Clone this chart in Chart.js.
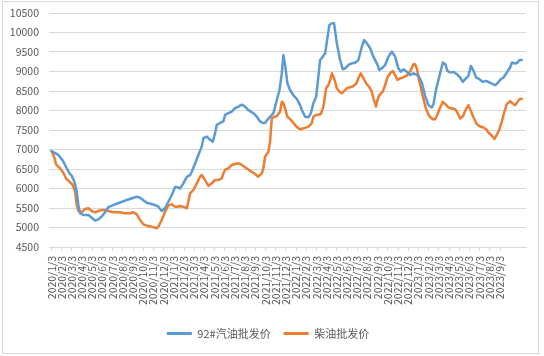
<!DOCTYPE html>
<html><head><meta charset="utf-8">
<script src="https://cdn.jsdelivr.net/npm/chart.js@4.4.0/dist/chart.umd.min.js"></script>
<style>html,body{margin:0;padding:0;background:#fff}canvas{display:block}</style>
</head><body>
<canvas id="c" width="544" height="356"></canvas>
<script>
// Month labels on the x axis (x value = months since 2020/1/3)
const tickLabels = [
  '2020/1/3','2020/2/3','2020/3/3','2020/4/3','2020/5/3','2020/6/3','2020/7/3','2020/8/3','2020/9/3','2020/10/3','2020/11/3','2020/12/3',
  '2021/1/3','2021/2/3','2021/3/3','2021/4/3','2021/5/3','2021/6/3','2021/7/3','2021/8/3','2021/9/3','2021/10/3','2021/11/3','2021/12/3',
  '2022/1/3','2022/2/3','2022/3/3','2022/4/3','2022/5/3','2022/6/3','2022/7/3','2022/8/3','2022/9/3','2022/10/3','2022/11/3','2022/12/3',
  '2023/1/3','2023/2/3','2023/3/3','2023/4/3','2023/5/3','2023/6/3','2023/7/3','2023/8/3','2023/9/3'
];
const yTicks = [4500,5000,5500,6000,6500,7000,7500,8000,8500,9000,9500,10000,10500];

// 92# gasoline wholesale price
const gasMonths = [0,0.67,1.16,1.49,1.75,1.98,2.24,2.47,2.63,2.80,
  3.12,3.61,3.95,4.27,4.59,4.93,5.25,5.57,6.40,7.38,
  8.36,8.68,9.34,10.16,10.48,10.81,11.14,11.46,11.80,12.12,
  12.28,12.61,12.93,13.27,13.59,13.76,14.08,14.41,14.74,14.90,
  15.23,15.55,15.82,16.05,16.21,16.54,16.86,17.03,17.35,17.68,
  18.01,18.33,18.67,18.99,19.31,19.80,20.14,20.46,20.73,20.95,
  21.18,21.44,21.77,22.10,22.36,22.59,22.75,22.91,23.14,23.41,
  23.73,24.06,24.39,24.56,24.88,25.20,25.44,25.69,25.96,26.18,
  26.35,26.61,26.84,27.01,27.26,27.50,27.72,27.99,28.31,28.58,
  28.80,29.13,29.46,29.78,30.11,30.44,30.67,30.93,31.26,31.58,
  31.91,32.17,32.40,32.73,33.05,33.39,33.71,34.03,34.27,34.52,
  34.86,35.18,35.51,35.84,36.00,36.33,36.65,36.98,37.31,37.47,
  37.73,38.06,38.39,38.62,38.84,39.11,39.43,39.76,40.09,40.35,
  40.58,40.90,41.14,41.40,41.66,41.98,42.32,42.64,42.97,43.30,
  43.52,43.75,44.01,44.34,44.67,44.99,45.18,45.49,45.72,45.91,
  46.14];
const gasPrices = [6960,6860,6690,6520,6390,6330,6175,5920,5580,5365,
  5320,5320,5250,5175,5210,5280,5390,5520,5610,5705,
  5790,5765,5636,5577,5534,5423,5492,5662,5833,6040,
  6040,6000,6130,6300,6340,6430,6640,6860,7080,7290,
  7330,7250,7200,7420,7630,7680,7720,7890,7930,7970,
  8060,8100,8150,8100,8010,7930,7840,7720,7680,7680,
  7760,7840,7930,8270,8520,8950,9420,9170,8700,8520,
  8390,8300,8140,8013,7841,7826,7928,8185,8354,8867,
  9295,9380,9466,9764,10192,10236,10236,9723,9295,9056,
  9082,9167,9210,9226,9295,9636,9808,9723,9595,9380,
  9210,9038,9082,9167,9380,9508,9380,9082,8995,9056,
  8995,8910,8954,8910,8887,8718,8374,8136,8077,8162,
  8546,8887,9231,9187,9016,8974,8990,8931,8846,8733,
  8803,8887,9143,9016,8846,8803,8733,8759,8718,8674,
  8649,8700,8785,8846,8974,9103,9231,9205,9231,9298,
  9298];

// Diesel wholesale price
const dieselMonths = [0,0.25,0.44,0.77,1.10,1.42,1.75,2.08,2.31,2.47,
  2.63,2.96,3.29,3.61,3.95,4.27,4.59,4.93,5.25,5.57,
  6.06,6.72,7.21,7.70,8.03,8.36,8.68,9.01,9.34,9.83,
  10.32,10.48,10.81,11.14,11.46,11.80,12.12,12.28,12.61,12.93,
  13.27,13.42,13.59,13.92,14.25,14.57,14.74,15.06,15.39,15.72,
  16.05,16.37,16.70,16.86,17.03,17.35,17.68,18.01,18.33,18.67,
  18.99,19.48,19.97,20.29,20.63,20.78,20.95,21.28,21.44,21.61,
  21.77,22.10,22.42,22.59,22.75,22.91,23.14,23.41,23.73,24.06,
  24.39,24.71,25.20,25.53,25.69,26.02,26.42,26.67,26.94,27.16,
  27.33,27.50,27.66,27.82,27.99,28.24,28.48,28.70,28.97,29.29,
  29.62,29.88,30.11,30.34,30.60,30.86,31.19,31.42,31.58,31.84,
  31.97,32.17,32.50,32.73,32.99,33.22,33.48,33.71,33.94,34.20,
  34.52,34.86,35.18,35.51,35.67,35.84,36.00,36.23,36.49,36.75,
  37.08,37.41,37.64,37.87,38.13,38.39,38.62,38.94,39.27,39.60,
  39.82,40.09,40.35,40.58,40.90,41.14,41.40,41.73,42.05,42.38,
  42.64,42.87,43.20,43.45,43.69,43.95,44.18,44.41,44.67,44.99,
  45.26,45.49,45.72,45.91,46.14];
const dieselPrices = [6960,6816,6620,6534,6431,6261,6175,6090,5918,5577,
  5423,5390,5475,5492,5423,5390,5423,5449,5449,5423,
  5390,5390,5364,5364,5390,5338,5193,5082,5046,5021,
  4980,5021,5193,5406,5560,5595,5534,5534,5552,5534,
  5492,5662,5877,5962,6133,6303,6346,6218,6064,6133,
  6218,6218,6262,6390,6475,6518,6603,6628,6646,6603,
  6544,6457,6372,6303,6390,6518,6816,6944,7200,7800,
  7826,7859,7970,8226,8185,8056,7841,7780,7680,7580,
  7520,7543,7585,7672,7841,7885,7910,8098,8569,8654,
  8764,8954,8867,8738,8569,8482,8441,8500,8569,8595,
  8628,8680,8826,8954,8826,8698,8595,8482,8313,8098,
  8270,8397,8482,8654,8867,8954,9013,8910,8782,8826,
  8850,8900,9000,9185,9185,9082,8846,8590,8290,8033,
  7846,7777,7777,7905,8077,8221,8162,8077,8051,8033,
  7949,7795,7846,7990,8136,7990,7821,7649,7590,7564,
  7520,7436,7351,7267,7380,7526,7717,7949,8162,8240,
  8180,8136,8221,8290,8300];

const seriesNames = ['92#汽油批发价', '柴油批发价'];
const seriesColors = ['#5B9BD5', '#ED7D31'];

Chart.defaults.font.family = '"Noto Sans CJK SC", "Liberation Sans", sans-serif';
Chart.defaults.color = '#595959';

const framePlugin = {
  id: 'frame',
  beforeDraw(chart) {
    const ctx = chart.ctx;
    ctx.save();
    ctx.fillStyle = '#ffffff';
    ctx.fillRect(0, 0, chart.width, chart.height);
    ctx.strokeStyle = '#d9d9d9';
    ctx.lineWidth = 1;
    ctx.strokeRect(2.5, 1.5, 536, 352);
    ctx.restore();
  }
};

const toPoints = (xs, ys) => xs.map((m, i) => ({ x: m, y: ys[i] }));

new Chart(document.getElementById('c'), {
  type: 'line',
  data: {
    datasets: [
      { label: seriesNames[0], data: toPoints(gasMonths, gasPrices),
        borderColor: seriesColors[0], backgroundColor: seriesColors[0],
        borderWidth: 2.5, pointRadius: 0, tension: 0, borderJoinStyle: 'round', borderCapStyle: 'round' },
      { label: seriesNames[1], data: toPoints(dieselMonths, dieselPrices),
        borderColor: seriesColors[1], backgroundColor: seriesColors[1],
        borderWidth: 2.5, pointRadius: 0, tension: 0, borderJoinStyle: 'round', borderCapStyle: 'round' }
    ]
  },
  options: {
    responsive: false,
    devicePixelRatio: 1,
    animation: false,
    layout: { padding: { left: 10, right: 18, top: 13, bottom: 7 } },
    scales: {
      x: {
        type: 'linear', min: -0.25, max: 46.55,
        afterBuildTicks: s => { s.ticks = tickLabels.map((_, i) => ({ value: i })); },
        afterFit: s => { s.height = 68; },
        ticks: { autoSkip: false, maxRotation: 90, minRotation: 90, padding: 5,
                 color: '#595959', font: { size: 10.5 },
                 callback: v => tickLabels[v] ?? '' },
        grid: { drawOnChartArea: false, drawTicks: true, tickLength: 4, color: '#d9d9d9' },
        border: { display: true, color: '#d9d9d9' }
      },
      y: {
        min: yTicks[0], max: yTicks[yTicks.length - 1],
        afterBuildTicks: s => { s.ticks = yTicks.map(v => ({ value: v })); },
        afterFit: s => { s.width = 39; s.paddingTop = 6; s.paddingBottom = 6; },
        ticks: { padding: 10, color: '#595959', font: { size: 10.5 }, callback: v => String(v) },
        grid: { color: '#d9d9d9', drawTicks: false },
        border: { display: false }
      }
    },
    plugins: {
      legend: {
        position: 'bottom',
        labels: {
          boxWidth: 25, boxHeight: 3, padding: 13, color: '#595959', font: { size: 11 },
          generateLabels: chart => Chart.defaults.plugins.legend.labels.generateLabels(chart)
            .map(l => ({ ...l, lineWidth: 0, fillStyle: l.strokeStyle }))
        }
      },
      tooltip: { enabled: false }
    }
  },
  plugins: [framePlugin]
});
</script>
</body></html>
